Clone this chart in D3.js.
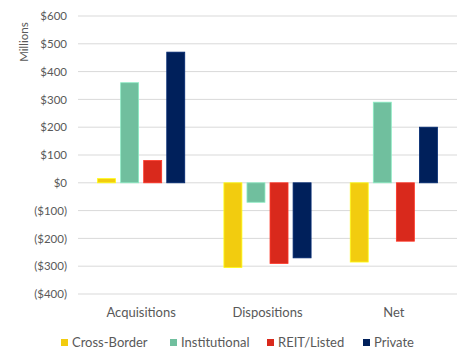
<!DOCTYPE html>
<html>
<head>
<meta charset="utf-8">
<script src="https://cdn.jsdelivr.net/npm/d3@7"></script>
<style>
  html, body { margin: 0; padding: 0; background: #fff; }
  svg text { font-family: Lato, "Open Sans", "Liberation Sans", sans-serif; fill: #595959; }
</style>
</head>
<body>
<svg id="chart" width="463" height="352"></svg>
<script>
// Flows by investor type, in $ millions
const categories = ["Acquisitions", "Dispositions", "Net"];
const seriesNames = ["Cross-Border", "Institutional", "REIT/Listed", "Private"];
const crossBorder = [15, -305, -285];
const institutional = [360, -70, 290];
const reitListed = [80, -290, -210];
const privateInv = [470, -270, 200];
const yTicks = [600, 500, 400, 300, 200, 100, 0, -100, -200, -300, -400];
const colors = ["#f2cc0f", "#70bf9e", "#d9291c", "#00205b"];

const seriesValues = [crossBorder, institutional, reitListed, privateInv];

const svg = d3.select("#chart");
const plotLeft = 78, plotRight = 457, plotTop = 16, plotBottom = 294;

const y = d3.scaleLinear().domain([-400, 600]).range([plotBottom, plotTop]);
const x0 = d3.scaleBand().domain(categories).range([plotLeft, plotRight]).paddingInner(0.31).paddingOuter(0.155);
const x1 = d3.scaleBand().domain(seriesNames).range([0, x0.bandwidth()]).paddingInner(0.22);

const fmt = v => v < 0 ? "($" + Math.abs(v) + ")" : "$" + v;

// gridlines
svg.append("g").selectAll("line").data(yTicks).join("line")
  .attr("x1", plotLeft).attr("x2", plotRight)
  .attr("y1", d => y(d)).attr("y2", d => y(d))
  .attr("stroke", "#d9d9d9").attr("stroke-width", 1);

// y axis labels
const yAxis = d3.axisLeft(y).tickValues(yTicks).tickFormat(fmt).tickSize(0).tickPadding(0);
const ya = svg.append("g").attr("transform", `translate(67,0)`).call(yAxis);
ya.select(".domain").remove();
ya.selectAll("text").style("font-size", "11.5px").attr("fill", "#595959")
  .style("font-family", 'Lato, "Open Sans", sans-serif');

// axis title
svg.append("text").attr("transform", `translate(28,42) rotate(-90)`)
  .attr("text-anchor", "middle").style("font-size", "11.5px").text("Millions");

// bars
const groups = svg.append("g").selectAll("g").data(categories).join("g")
  .attr("transform", d => `translate(${x0(d)},0)`);
groups.selectAll("rect")
  .data((c, ci) => seriesNames.map((s, si) => ({ s, si, v: seriesValues[si][ci] })))
  .join("rect")
  .attr("x", d => x1(d.s))
  .attr("width", x1.bandwidth())
  .attr("y", d => y(Math.max(0, d.v)))
  .attr("height", d => Math.abs(y(d.v) - y(0)))
  .attr("fill", d => colors[d.si])
  .attr("stroke", d => d3.color(colors[d.si]).brighter(0.6))
  .attr("stroke-width", 0.8);

// category labels
const xAxis = d3.axisBottom(x0).tickSize(0).tickPadding(0);
const xa = svg.append("g").attr("transform", `translate(0,308)`).call(xAxis);
xa.select(".domain").remove();
xa.selectAll("text").style("font-size", "13px").attr("fill", "#595959")
  .style("font-family", 'Lato, "Open Sans", sans-serif');

// legend
const legendX = [61, 170, 267, 363];
const lg = svg.append("g").selectAll("g").data(seriesNames).join("g")
  .attr("transform", (d, i) => `translate(${legendX[i]},339)`);
lg.append("rect").attr("width", 7).attr("height", 7).attr("y", 0)
  .attr("fill", (d, i) => colors[i]);
lg.append("text").attr("x", 11).attr("y", 8).style("font-size", "13px").text(d => d);
</script>
</body>
</html>
